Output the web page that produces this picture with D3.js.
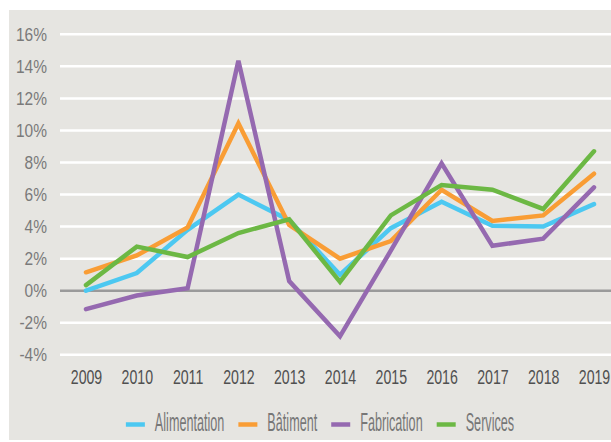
<!DOCTYPE html>
<html><head><meta charset="utf-8">
<script src="https://cdn.jsdelivr.net/npm/d3@7"></script>
<style>
html,body{margin:0;padding:0;background:#fff;}
svg{display:block;}
text{font-family:"Liberation Sans Narrow","Liberation Sans",Arial,sans-serif;}
</style></head>
<body>
<svg id="chart" width="611" height="442"></svg>
<script>
const years = ["2009","2010","2011","2012","2013","2014","2015","2016","2017","2018","2019"];
const yTicks = [-4,-2,0,2,4,6,8,10,12,14,16];
const seriesNames = ["Alimentation","Bâtiment","Fabrication","Services"];
const seriesColors = ["#4cc8f1","#f99d35","#9569b0","#6cb844"];
const alimentation = [0.0, 1.1, 3.8, 6.0, 4.4, 1.0, 3.9, 5.55, 4.05, 4.0, 5.4];
const batiment     = [1.15, 2.2, 3.95, 10.45, 4.1, 2.0, 3.1, 6.3, 4.35, 4.7, 7.3];
const fabrication  = [-1.15, -0.3, 0.15, 14.35, 0.6, -2.85, 2.5, 7.95, 2.8, 3.25, 6.45];
const services     = [0.35, 2.75, 2.1, 3.6, 4.45, 0.55, 4.7, 6.6, 6.3, 5.1, 8.7];
const seriesValues = [alimentation, batiment, fabrication, services];

const svg = d3.select("#chart");
const W = 611, H = 442;

// horizontal compression factor so a sample string reaches a target width
function compressFactor(sample, size, target) {
  const t = svg.append("text").attr("font-size", size).text(sample);
  const k = target / t.node().getComputedTextLength();
  t.remove();
  return k;
}

// panel background
svg.append("rect").attr("x", 9).attr("y", 10).attr("width", W - 9).attr("height", 430).attr("fill", "#e6e5e1");

const x = d3.scalePoint().domain(years).range([86, 594]);
const y = d3.scaleLinear().domain([-4, 16]).range([354.8, 34.3]);

// gridlines
const grid = svg.append("g");
grid.selectAll("line").data(yTicks).join("line")
  .attr("x1", 60).attr("x2", W)
  .attr("y1", d => y(d)).attr("y2", d => y(d))
  .attr("stroke", d => d === 0 ? "#9a9a9a" : "#ffffff")
  .attr("stroke-width", 2.5);

// y axis labels
const kY = compressFactor("16%", 19, 31);
const yAxis = d3.axisLeft(y).tickValues(yTicks).tickFormat(d => d + "%").tickSize(0).tickPadding(0);
const yg = svg.append("g").attr("transform", "translate(47,0)").call(yAxis);
yg.select(".domain").remove();
yg.selectAll("text").attr("font-size", 19).attr("fill", "#7a7a7a")
  .attr("font-family", "'Liberation Sans Narrow','Liberation Sans',Arial,sans-serif")
  .attr("x", 0)
  .attr("transform", `scale(${kY},1)`);

// x axis labels
const kX = compressFactor("2009", 19.5, 31.5);
const xAxis = d3.axisBottom(x).tickSize(0).tickPadding(0);
const xg = svg.append("g").attr("transform", "translate(0,370)").call(xAxis);
xg.select(".domain").remove();
xg.selectAll("text").attr("font-size", 19.5).attr("fill", "#505050")
  .attr("font-family", "'Liberation Sans Narrow','Liberation Sans',Arial,sans-serif")
  .attr("dy", "0.72em")
  .attr("transform", `scale(${kX},1)`);

// lines
const line = d3.line().x((d, i) => x(years[i])).y(d => y(d));
svg.append("g").selectAll("path").data(seriesValues).join("path")
  .attr("d", d => line(d))
  .attr("fill", "none")
  .attr("stroke", (d, i) => seriesColors[i])
  .attr("stroke-width", 4.5)
  .attr("stroke-linejoin", "miter")
  .attr("stroke-linecap", "round");

// legend
const kL = compressFactor("Alimentation", 25, 69.5);
const legend = svg.append("g");
const items = [];
seriesNames.forEach((name, i) => {
  const g = legend.append("g");
  g.append("line").attr("x1", 0).attr("x2", 19).attr("y1", 0).attr("y2", 0)
    .attr("stroke", seriesColors[i]).attr("stroke-width", 4.5);
  const t = g.append("text").attr("y", 6).attr("font-size", 25).attr("fill", "#777").text(name);
  const w = t.node().getComputedTextLength() * kL;
  t.attr("transform", `translate(29,0) scale(${kL},1)`);
  items.push({g, w: 29 + w});
});
const gap = 14;
const total = d3.sum(items, d => d.w) + gap * (items.length - 1);
let cx = 320 - total / 2;
items.forEach(it => { it.g.attr("transform", `translate(${cx},424.5)`); cx += it.w + gap; });
</script>
</body></html>
